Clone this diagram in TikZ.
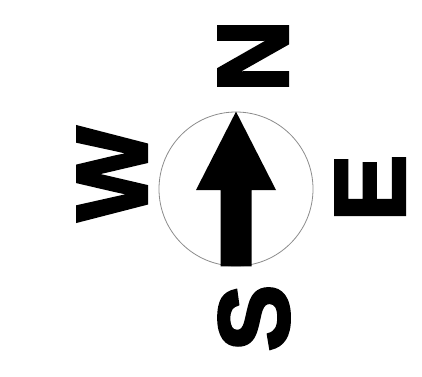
\documentclass[tikz,border=0pt]{standalone}
\usepackage{fontspec}
\newfontfamily\compassfont[FakeBold=3]{Liberation Sans Bold}
\usetikzlibrary{calc}

\begin{document}
\begin{tikzpicture}[x=1pt,y=-1pt,
letter/.style={rotate=90,inner sep=0pt,text height=73pt,text depth=0pt,
font=\compassfont\fontsize{100}{100}\selectfont}]
\useasboundingbox (0,0) rectangle (422,376);
\node[circle,draw=black!45,line width=0.8pt,minimum size=154pt,inner sep=0pt] (dial) at (236,189) {};
% needle
\fill (dial.north) -- ($(dial.center)+(40,1)$) -- ($(dial.center)+(15.5,1)$)
 -- ($(dial.south)+(15.5,0)$) -- ($(dial.south)+(-15.5,0)$)
 -- ($(dial.center)+(-15.5,1)$) -- ($(dial.center)+(-40,1)$) -- cycle;
% letters
\node[letter] (north) at (251,56) {N};
\node[letter] (west) at (110,174) {W};
\node[letter] (east) at (368,188) {E};
\node[letter] (south) at (252,318) {S};
\end{tikzpicture}
\end{document}
